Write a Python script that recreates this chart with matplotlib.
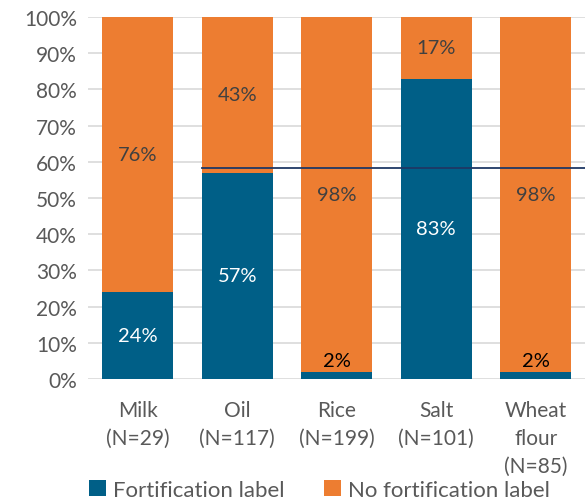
import matplotlib
matplotlib.use("Agg")
import matplotlib.pyplot as plt
import numpy as np

plt.rcParams['font.family'] = ['Lato', 'DejaVu Sans']

# data
categories = ['Milk\n(N=29)', 'Oil\n(N=117)', 'Rice\n(N=199)', 'Salt\n(N=101)', 'Wheat\nflour\n(N=85)']
fortified = [24, 57, 2, 83, 2]
not_fortified = [76, 43, 98, 17, 98]
ref_line = 58.3

blue = '#005f87'
orange = '#ed7d31'

fig = plt.figure(figsize=(5.85, 5.02), dpi=100)
ax = fig.add_axes([88 / 585, 1 - 380 / 502, (585.5 - 88) / 585, 362 / 502])

x = np.arange(len(categories))
w = 0.715
ax.bar(x, fortified, w, color=blue, label='Fortification label', zorder=2)
ax.bar(x, not_fortified, w, bottom=fortified, color=orange, label='No fortification label', zorder=2)

# labels
for i in range(len(x)):
    f = fortified[i]
    n = not_fortified[i]
    if f >= 10:
        ax.text(x[i], f / 2, f'{f}%', ha='center', va='center', color='white', fontsize=14.5, zorder=3)
    else:
        ax.text(x[i], f + 0.8, f'{f}%', ha='center', va='bottom', color='black', fontsize=14.5, zorder=3)
    ax.text(x[i], f + n / 2, f'{n}%', ha='center', va='center', color='#404040', fontsize=14.5, zorder=3)

# reference line from Oil bar edge to the right
ax.plot([1 - w / 2, 4.5], [ref_line, ref_line], color='#1f3864', lw=1.3, zorder=4, clip_on=False)

ax.set_xlim(-0.5, 4.5)
ax.set_ylim(0, 100)
ax.set_yticks(range(0, 101, 10))
ax.set_yticklabels([f'{v}%' for v in range(0, 101, 10)])
ax.set_xticks(x)
ax.set_xticklabels(categories, linespacing=1.5)
ax.tick_params(axis='both', length=0, labelsize=15, labelcolor='#595959')
ax.tick_params(axis='x', pad=15)
ax.tick_params(axis='y', pad=8)
ax.yaxis.grid(True, color='#d9d9d9', lw=1.2, zorder=0)
ax.set_axisbelow(True)
for s in ax.spines.values():
    s.set_visible(False)

leg = fig.legend(loc='center', bbox_to_anchor=(0.546, 1 - 491 / 502), ncol=2, frameon=False,
                 fontsize=16, handlelength=0.75, handleheight=0.75, handletextpad=0.3, columnspacing=1.8)
for t in leg.get_texts():
    t.set_color('#595959')

fig.savefig('out.png', dpi=100)
